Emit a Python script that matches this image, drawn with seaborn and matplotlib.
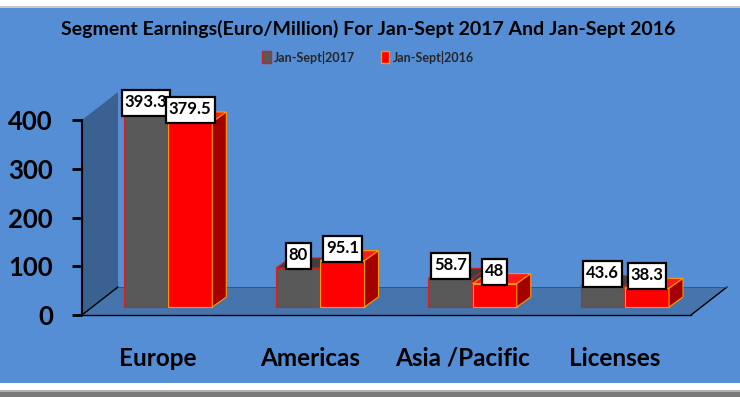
import numpy as np
import pandas as pd
import matplotlib
matplotlib.use("Agg")
import matplotlib.pyplot as plt
import seaborn as sns
from matplotlib.patches import Polygon, Rectangle
from matplotlib.transforms import IdentityTransform, ScaledTranslation

# ---------------- data ----------------
categories = ["Europe", "Americas", "Asia /Pacific", "Licenses"]
series_names = ["Jan-Sept|2017", "Jan-Sept|2016"]
values_2017 = [393.3, 80, 58.7, 43.6]
values_2016 = [379.5, 95.1, 48, 38.3]
yticks = [0, 100, 200, 300, 400]
title = "Segment Earnings(Euro/Million) For Jan-Sept 2017 And Jan-Sept 2016"

df = pd.DataFrame({
    "Segment": categories * 2,
    "Period": [series_names[0]] * len(categories) + [series_names[1]] * len(categories),
    "Earnings": values_2017 + values_2016,
})

# ---------------- style ----------------
sns.set_style("white")
plt.rcParams["font.family"] = ["Lato", "DejaVu Sans"]

W, H = 740, 397
fig = plt.figure(figsize=(W / 100, H / 100), dpi=100)
fig.patch.set_facecolor("white")

BG = "#558ED5"
WALL = "#3A6192"
FLOOR = "#4674AC"
front_cols = ["#595959", "#FF0000"]
top_cols = ["#3F3F3F", "#FF1A1A"]
side_cols = ["#404040", "#A50000"]
edge_cols = ["#D02020", "#FF9900"]

# panel background and frame strips
fig.add_artist(Rectangle((0, 14 / H), 1, 375 / H, transform=fig.transFigure,
                         facecolor=BG, edgecolor="none", zorder=-10))
fig.add_artist(Rectangle((0, 389 / H), 1, 2 / H, transform=fig.transFigure,
                         facecolor="#C8C8C8", edgecolor="none", zorder=-10))
fig.add_artist(Rectangle((0, 0), 1, 5 / H, transform=fig.transFigure,
                         facecolor="#7A7A7A", edgecolor="none", zorder=-10))
fig.add_artist(Rectangle((0, 5 / H), 1, 2 / H, transform=fig.transFigure,
                         facecolor="#B0B0B0", edgecolor="none", zorder=-10))

ax = fig.add_axes([82 / W, (H - 315) / H, 609 / W, 195 / H])
ax.set_facecolor("none")

sns.barplot(data=df, x="Segment", y="Earnings", hue="Period",
            palette=front_cols, saturation=1, width=0.58, ax=ax,
            order=categories, hue_order=series_names)
if ax.get_legend() is not None:
    ax.get_legend().remove()

ax.set_xlim(-0.5, len(categories) - 0.5)
ax.set_ylim(0, 400)
ax.set_yticks(yticks)
ax.set_xlabel("")
ax.set_ylabel("")

# depth geometry (pixels)
FDX, FDY = 36, 28    # floor / wall depth
BOX, BOY = 10, 8     # bar front offset from front plane
BDX, BDY = 14, 10    # bar depth
PADX, PADY = 3, 6    # label box padding (pixels)

T = ax.transData
Xl, Yb = T.transform((-0.5, 0))
_, Yt = T.transform((-0.5, 400))
Xr, _ = T.transform((len(categories) - 0.5, 0))
ident = IdentityTransform()

wall = Polygon([(Xl, Yb), (Xl, Yt), (Xl + FDX, Yt + FDY), (Xl + FDX, Yb + FDY)],
               closed=True, transform=ident, facecolor=WALL, edgecolor="none",
               zorder=0.2, clip_on=False)
floor = Polygon([(Xl, Yb), (Xr, Yb), (Xr + FDX, Yb + FDY), (Xl + FDX, Yb + FDY)],
                closed=True, transform=ident, facecolor=FLOOR, edgecolor="none",
                zorder=0.3, clip_on=False)
ax.add_patch(wall)
ax.add_patch(floor)
ax.plot([Xl, Xl + FDX], [Yb, Yb + FDY], transform=ident, color="black", lw=1,
        clip_on=False, zorder=0.4)
ax.plot([Xr, Xr + FDX], [Yb, Yb + FDY], transform=ident, color="black", lw=1,
        clip_on=False, zorder=0.4)
ax.plot([Xl + FDX, Xr + FDX], [Yb + FDY, Yb + FDY], transform=ident,
        color="#2F4F7A", lw=0.6, clip_on=False, zorder=0.4)

shift = ScaledTranslation(BOX / 100, BOY / 100, fig.dpi_scale_trans)
labels = []
for k, cont in enumerate(ax.containers):
    z = 2 + k
    for p in cont.patches:
        x0, w, h = p.get_x(), p.get_width(), p.get_height()
        X0, Y0 = T.transform((x0, 0))
        X1, Y1 = T.transform((x0 + w, h))
        X0 += BOX; X1 += BOX; Y0 += BOY; Y1 += BOY
        p.set_transform(T + shift)
        p.set_clip_on(False)
        p.set_edgecolor(edge_cols[k])
        p.set_linewidth(0.8)
        p.set_zorder(z)
        top = Polygon([(X0, Y1), (X1, Y1), (X1 + BDX, Y1 + BDY), (X0 + BDX, Y1 + BDY)],
                      closed=True, transform=ident, facecolor=top_cols[k],
                      edgecolor=edge_cols[k], lw=0.8, zorder=z, clip_on=False)
        side = Polygon([(X1, Y0), (X1 + BDX, Y0 + BDY), (X1 + BDX, Y1 + BDY), (X1, Y1)],
                       closed=True, transform=ident, facecolor=side_cols[k],
                       edgecolor=edge_cols[k], lw=0.8, zorder=z, clip_on=False)
        ax.add_patch(top)
        ax.add_patch(side)
        t = ax.text((X0 + X1) / 2, Y1 + PADY - 1, f"{h:g}", transform=ident,
                    ha="center", va="bottom", fontsize=12, fontweight="bold",
                    color="black", zorder=10.5 + 2 * k, clip_on=False)
        labels.append((t, k))

# white label boxes sized from the text extents
fig.canvas.draw()
renderer = fig.canvas.get_renderer()
for t, k in labels:
    bb = t.get_window_extent(renderer)
    ax.add_patch(Rectangle((bb.x0 - PADX, bb.y0 - PADY), bb.width + 2 * PADX,
                           bb.height + 2 * PADY - 2, transform=ident,
                           facecolor="white", edgecolor="black", lw=1.6,
                           zorder=10 + 2 * k, clip_on=False))

ax.set_xlim(-0.5, len(categories) - 0.5)
ax.set_ylim(0, 400)

# axes styling
for s in ["top", "right"]:
    ax.spines[s].set_visible(False)
ax.spines["left"].set_color("black")
ax.spines["left"].set_linewidth(1.5)
ax.spines["bottom"].set_color("black")
ax.spines["bottom"].set_linewidth(1.0)
ax.tick_params(axis="y", direction="out", length=7, width=2, color="black",
               labelsize=18.5, pad=14, left=True)
ax.tick_params(axis="x", length=0, labelsize=17.5, pad=23)
for lbl in ax.get_yticklabels() + ax.get_xticklabels():
    lbl.set_fontweight("bold")
    lbl.set_color("black")

# title and legend
fig.text(368 / W, 1 - 29 / H, title, ha="center", va="center",
         fontsize=14.0, fontweight="bold", color="black")
handles = [Rectangle((0, 0), 1, 1, facecolor=front_cols[i], edgecolor=edge_cols[i], lw=1)
           for i in range(2)]
fig.legend(handles, series_names, loc="center", bbox_to_anchor=(368 / W, 1 - 57 / H),
           ncol=2, frameon=False, prop=dict(weight="bold", size=9),
           handlelength=0.7, handleheight=1.1, handletextpad=0.3, columnspacing=2.0)

fig.savefig("out.png", dpi=100)
